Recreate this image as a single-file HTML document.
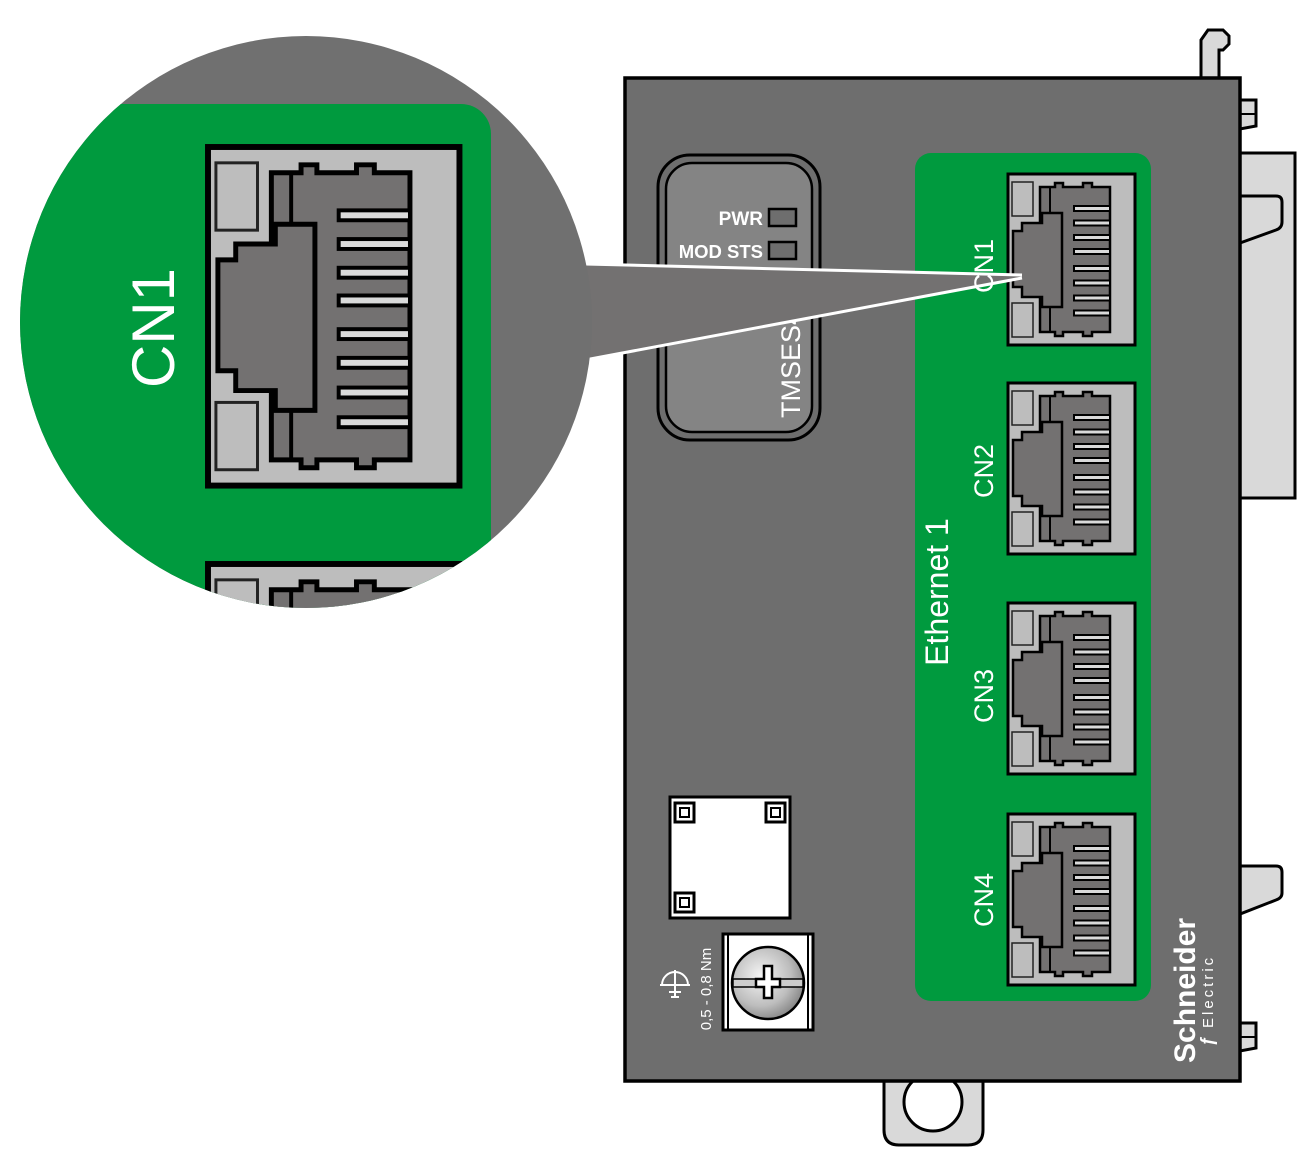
<!DOCTYPE html>
<html><head><meta charset="utf-8"><style>
html,body{margin:0;padding:0;background:#fff;}
svg{display:block;font-family:"Liberation Sans",sans-serif;}
</style></head><body>
<svg width="1314" height="1164" viewBox="0 0 1314 1164" xmlns="http://www.w3.org/2000/svg">
<defs>
  <g id="rj">
    <rect x="0" y="0" width="127" height="171" fill="#bdbdbd" stroke="#000" stroke-width="3"/>
    <rect x="4" y="8" width="21" height="34" fill="#bdbdbd" stroke="#222" stroke-width="1.5"/>
    <rect x="4" y="129" width="21" height="34" fill="#bdbdbd" stroke="#222" stroke-width="1.5"/>
    <path d="M32,13 H47 V9 H55 V13 H75 V9 H84 V13 H102 V158 H84 V162 H75 V158 H55 V162 H47 V158 H32 Z" fill="#737171" stroke="#000" stroke-width="2.5"/>
    <line x1="42" y1="13" x2="42" y2="39" stroke="#000" stroke-width="2"/>
    <line x1="42" y1="133" x2="42" y2="158" stroke="#000" stroke-width="2"/>
    <path d="M34,39 H54 V133 H34 V123 H14 V113 H5 V57 H14 V49 H34 Z" fill="#737171" stroke="#000" stroke-width="2.5"/>
    <g fill="#dadada" stroke="#000" stroke-width="2">
      <rect x="66" y="32" width="36" height="5"/>
      <rect x="66" y="46.5" width="36" height="5"/>
      <rect x="66" y="61" width="36" height="5"/>
      <rect x="66" y="75" width="36" height="5"/>
      <rect x="66" y="92" width="36" height="5"/>
      <rect x="66" y="106.5" width="36" height="5"/>
      <rect x="66" y="121.5" width="36" height="5"/>
      <rect x="66" y="136.5" width="36" height="5"/>
    </g>
  </g>
  <clipPath id="circ"><circle cx="306" cy="322" r="286"/></clipPath>
  <radialGradient id="scr" cx="0.4" cy="0.4" r="0.7">
    <stop offset="0" stop-color="#f5f5f5"/><stop offset="0.6" stop-color="#bdbdbd"/><stop offset="1" stop-color="#777"/>
  </radialGradient>
</defs>

<path d="M1201,78 V40 L1208,30 H1223 L1229,36 V44 L1223,50 H1219 V78 Z" fill="#d9d9d9" stroke="#000" stroke-width="3"/>
<path d="M1240,100 H1256 V126 L1240,129 Z" fill="#d9d9d9" stroke="#000" stroke-width="3"/>
<line x1="1240" y1="114" x2="1256" y2="114" stroke="#000" stroke-width="2"/>
<rect x="1240" y="153" width="55" height="345" fill="#d9d9d9" stroke="#000" stroke-width="3"/>
<path d="M1240,196 H1276 Q1282,196 1282,202 V222 Q1282,228 1276,230 L1240,243" fill="#d9d9d9" stroke="#000" stroke-width="3"/>
<path d="M1240,866 H1276 Q1282,866 1282,872 V893 Q1282,898 1276,900 L1240,914 Z" fill="#d9d9d9" stroke="#000" stroke-width="3"/>
<path d="M1240,1023 H1256 V1048 L1240,1051 Z" fill="#d9d9d9" stroke="#000" stroke-width="3"/>
<line x1="1240" y1="1037" x2="1256" y2="1037" stroke="#000" stroke-width="2"/>
<path d="M884,1080 V1130 Q884,1145 899,1145 H968 Q983,1145 983,1130 V1080 Z" fill="#d9d9d9" stroke="#000" stroke-width="3"/>
<circle cx="933" cy="1102" r="29" fill="#fff" stroke="#000" stroke-width="3"/>

<rect x="625" y="78" width="615" height="1003" fill="#6e6e6e" stroke="#000" stroke-width="3.5"/>

<rect x="658" y="155" width="162" height="285" rx="32" fill="#6e6e6e" stroke="#000" stroke-width="3"/>
<rect x="666" y="163" width="146" height="269" rx="26" fill="#848484" stroke="#000" stroke-width="2.5"/>
<rect x="769" y="209" width="27" height="17" fill="#6e6e6e" stroke="#000" stroke-width="2.5"/>
<rect x="769" y="242" width="27" height="17" fill="#6e6e6e" stroke="#000" stroke-width="2.5"/>
<text x="763" y="225" fill="#fff" font-weight="bold" font-size="19" text-anchor="end">PWR</text>
<text x="763" y="258" fill="#fff" font-weight="bold" font-size="18.5" text-anchor="end">MOD STS</text>
<text transform="translate(800,418) rotate(-90)" fill="#fff" font-size="27">TMSES4</text>

<rect x="915" y="153" width="236" height="848" rx="16" fill="#009a3e"/>
<use href="#rj" x="1008" y="174"/>
<use href="#rj" x="1008" y="383"/>
<use href="#rj" x="1008" y="603"/>
<use href="#rj" x="1008" y="814"/>
<text transform="translate(993,471) rotate(-90)" fill="#fff" font-size="27" text-anchor="middle">CN2</text>
<text transform="translate(993,696) rotate(-90)" fill="#fff" font-size="27" text-anchor="middle">CN3</text>
<text transform="translate(993,900) rotate(-90)" fill="#fff" font-size="27" text-anchor="middle">CN4</text>
<text transform="translate(948,592) rotate(-90)" fill="#fff" font-size="32" text-anchor="middle">Ethernet 1</text>

<rect x="670" y="797" width="120" height="121" fill="#fff" stroke="#000" stroke-width="3"/>
<g fill="none" stroke="#000">
  <rect x="675" y="803" width="19" height="19" stroke-width="3"/><rect x="680" y="808" width="9" height="9" stroke-width="2"/>
  <rect x="766" y="803" width="19" height="19" stroke-width="3"/><rect x="771" y="808" width="9" height="9" stroke-width="2"/>
  <rect x="675" y="893" width="19" height="19" stroke-width="3"/><rect x="680" y="898" width="9" height="9" stroke-width="2"/>
</g>
<rect x="723" y="934" width="90" height="96" fill="#fff" stroke="#000" stroke-width="3"/>
<line x1="728" y1="935" x2="728" y2="1029" stroke="#000" stroke-width="2"/>
<line x1="808" y1="935" x2="808" y2="1029" stroke="#000" stroke-width="2"/>
<circle cx="768" cy="983" r="36" fill="url(#scr)" stroke="#000" stroke-width="2.5"/>
<rect x="733" y="979" width="70" height="8" fill="#ccc" stroke="#000" stroke-width="1.5"/>
<path d="M764,966 H772 V979 H780 V987 H772 V998 H764 V987 H756 V979 H764 Z" fill="#fff" stroke="#000" stroke-width="2.5"/>
<g stroke="#fff" stroke-width="2" fill="none">
  <line x1="660" y1="985" x2="690" y2="985"/>
  <path d="M662,985 A13,13 0 0 1 688,985"/>
  <line x1="675" y1="970" x2="675" y2="998"/>
  <line x1="669" y1="992" x2="681" y2="992"/><line x1="671" y1="997" x2="679" y2="997"/>
</g>
<text transform="translate(711,989) rotate(-90)" fill="#fff" font-size="15" text-anchor="middle">0,5 - 0,8 Nm</text>
<text transform="translate(1195,1063) rotate(-90)" fill="#fff" font-size="30" font-weight="bold">Schneider</text>
<text transform="translate(1213,1028) rotate(-90)" fill="#fff" font-size="15" letter-spacing="3">Electric</text>
<text transform="translate(1213,1046) rotate(-90)" fill="#fff" font-size="18" font-weight="bold">&#402;</text>

<polygon points="585,264 1022,275 1022,278 585,360" fill="#737171"/>
<line x1="585" y1="264" x2="1022" y2="275" stroke="#fff" stroke-width="3"/>
<line x1="585" y1="360" x2="1022" y2="278" stroke="#fff" stroke-width="3"/>
<text transform="translate(993,266) rotate(-90)" fill="#fff" font-size="27" text-anchor="middle">CN1</text>

<g clip-path="url(#circ)">
  <rect x="0" y="0" width="620" height="620" fill="#707070"/>
  <rect x="-100" y="104" width="591" height="700" rx="30" fill="#009a3e"/>
  <g transform="translate(208,147) scale(1.98)"><use href="#rj"/></g>
  <g transform="translate(208,564) scale(1.98)"><use href="#rj"/></g>
  <text transform="translate(174,328) rotate(-90)" fill="#fff" font-size="60" text-anchor="middle">CN1</text>
</g>
</svg>
</body></html>
